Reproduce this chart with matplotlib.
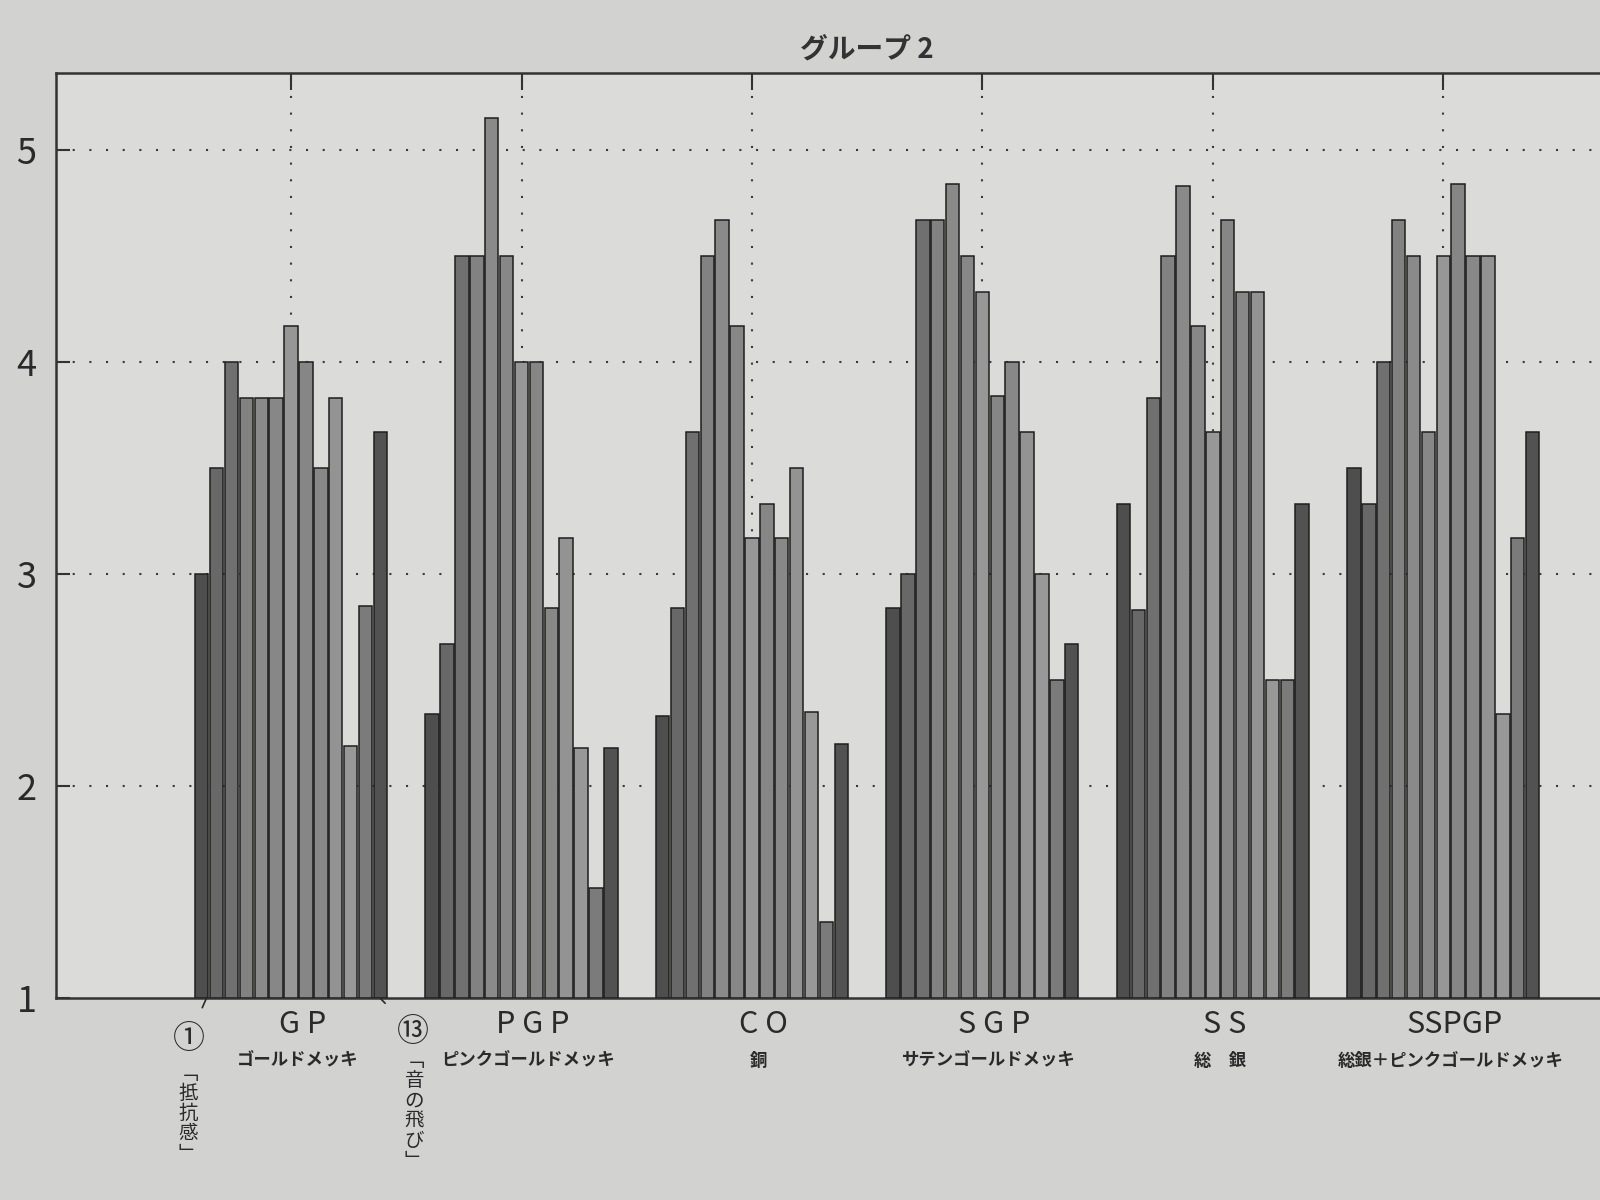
import numpy as np
import matplotlib
matplotlib.use('Agg')
import matplotlib.pyplot as plt
import matplotlib.transforms as mtransforms

plt.rcParams['font.family'] = ['Noto Sans CJK JP', 'DejaVu Sans']

# Data (13 items per plating type)
groups = ['G P', 'P G P', 'C O', 'S G P', 'S S', 'SSPGP']
group_names = ['ゴールドメッキ', 'ピンクゴールドメッキ', '銅',
               'サテンゴールドメッキ', '総　銀', '総銀＋ピンクゴールドメッキ']
gp = [3.0, 3.5, 4.0, 3.83, 3.83, 3.83, 4.17, 4.0, 3.5, 3.83, 2.19, 2.85, 3.67]
pgp = [2.34, 2.67, 4.5, 4.5, 5.15, 4.5, 4.0, 4.0, 2.84, 3.17, 2.18, 1.52, 2.18]
co = [2.33, 2.84, 3.67, 4.5, 4.67, 4.17, 3.17, 3.33, 3.17, 3.5, 2.35, 1.36, 2.2]
sgp = [2.84, 3.0, 4.67, 4.67, 4.84, 4.5, 4.33, 3.84, 4.0, 3.67, 3.0, 2.5, 2.67]
ss = [3.33, 2.83, 3.83, 4.5, 4.83, 4.17, 3.67, 4.67, 4.33, 4.33, 2.5, 2.5, 3.33]
sspgp = [3.5, 3.33, 4.0, 4.67, 4.5, 3.67, 4.5, 4.84, 4.5, 4.5, 2.34, 3.17, 3.67]
values = [gp, pgp, co, sgp, ss, sspgp]
yticks = [1, 2, 3, 4, 5]

# grey shade of each of the 13 items
shades = ['#4e4e4e', '#686868', '#707070', '#828282', '#8a8a8a', '#878787', '#979797',
          '#868686', '#888888', '#939393', '#989898', '#7b7b7b', '#525252']

fig = plt.figure(figsize=(16, 12), dpi=100, facecolor='#d2d2d0')
ax = fig.add_axes([0.035, 0.168, 0.965, 0.771], facecolor='#dbdbd9')

pitch = 0.0646
centers = np.arange(1, len(groups) + 1)
for gi, vals in enumerate(values):
    for k, v in enumerate(vals):
        x = centers[gi] + (k - 6) * pitch
        ax.bar(x, v - 1, bottom=1, width=pitch * 0.9, color=shades[k],
               edgecolor='#1e1e1e', linewidth=1.1, zorder=3)

ax.set_xlim(-0.02, 6.68)
ax.set_ylim(1, 5.36)

# dotted grid
for y in yticks[1:]:
    ax.axhline(y, color='#3a3a3a', linestyle=(0, (1, 7)), linewidth=1.5, zorder=1)
for c in centers:
    ax.axvline(c, color='#3a3a3a', linestyle=(0, (1, 7)), linewidth=1.5, zorder=1)

ax.set_yticks(yticks)
ax.set_yticklabels([str(t) for t in yticks], fontsize=26, color='#2a2a2a')
ax.set_xticks(centers)
ax.tick_params(axis='x', top=True, bottom=False, labelbottom=False,
               direction='in', length=12, width=1.5, color='#333333')
ax.tick_params(axis='y', direction='in', length=10, width=1.5, color='#333333', pad=14)

for s in ['left', 'top', 'bottom']:
    ax.spines[s].set_color('#333333')
    ax.spines[s].set_linewidth(1.8)
ax.spines['right'].set_visible(False)

ax.text(3.5, 1.01, 'グループ 2', transform=mtransforms.blended_transform_factory(ax.transData, ax.transAxes),
        ha='center', va='bottom', fontsize=20, fontweight='bold', color='#333333')

# group labels under the axis
trans = mtransforms.blended_transform_factory(ax.transData, fig.transFigure)
for c, g, n in zip(centers, groups, group_names):
    ax.text(c + 0.05, 0.146, g, transform=trans, ha='center', va='center',
            fontsize=22, color='#2a2a2a')
    ax.text(c + 0.03, 0.116, n, transform=trans, ha='center', va='center',
            fontsize=12.5, fontweight='bold', color='#2a2a2a')

# item 1 and item 13 callouts
first_x = centers[0] - 6 * pitch
last_x = centers[0] + 6 * pitch
ax.annotate('①', xy=(first_x + 0.02, 1.0), xycoords='data',
            xytext=(0.555, 0.134), textcoords=trans,
            ha='center', va='center', fontsize=23, color='#2a2a2a',
            arrowprops=dict(arrowstyle='-', color='#2a2a2a', lw=1.2, shrinkA=10, shrinkB=0),
            annotation_clip=False)
ax.annotate('⑬', xy=(last_x, 1.0), xycoords='data',
            xytext=(1.53, 0.14), textcoords=trans,
            ha='center', va='center', fontsize=23, color='#2a2a2a',
            arrowprops=dict(arrowstyle='-', color='#2a2a2a', lw=1.2, shrinkA=10, shrinkB=0),
            annotation_clip=False)
ax.text(0.555, 0.072, '﹁\n抵\n抗\n感\n﹂', transform=trans, ha='center', va='center',
        fontsize=14, color='#2a2a2a', linespacing=0.95)
ax.text(1.535, 0.074, '﹁\n音\nの\n飛\nび\n﹂', transform=trans, ha='center', va='center',
        fontsize=14, color='#2a2a2a', linespacing=0.95)

fig.savefig('out.png', dpi=100, facecolor=fig.get_facecolor())
